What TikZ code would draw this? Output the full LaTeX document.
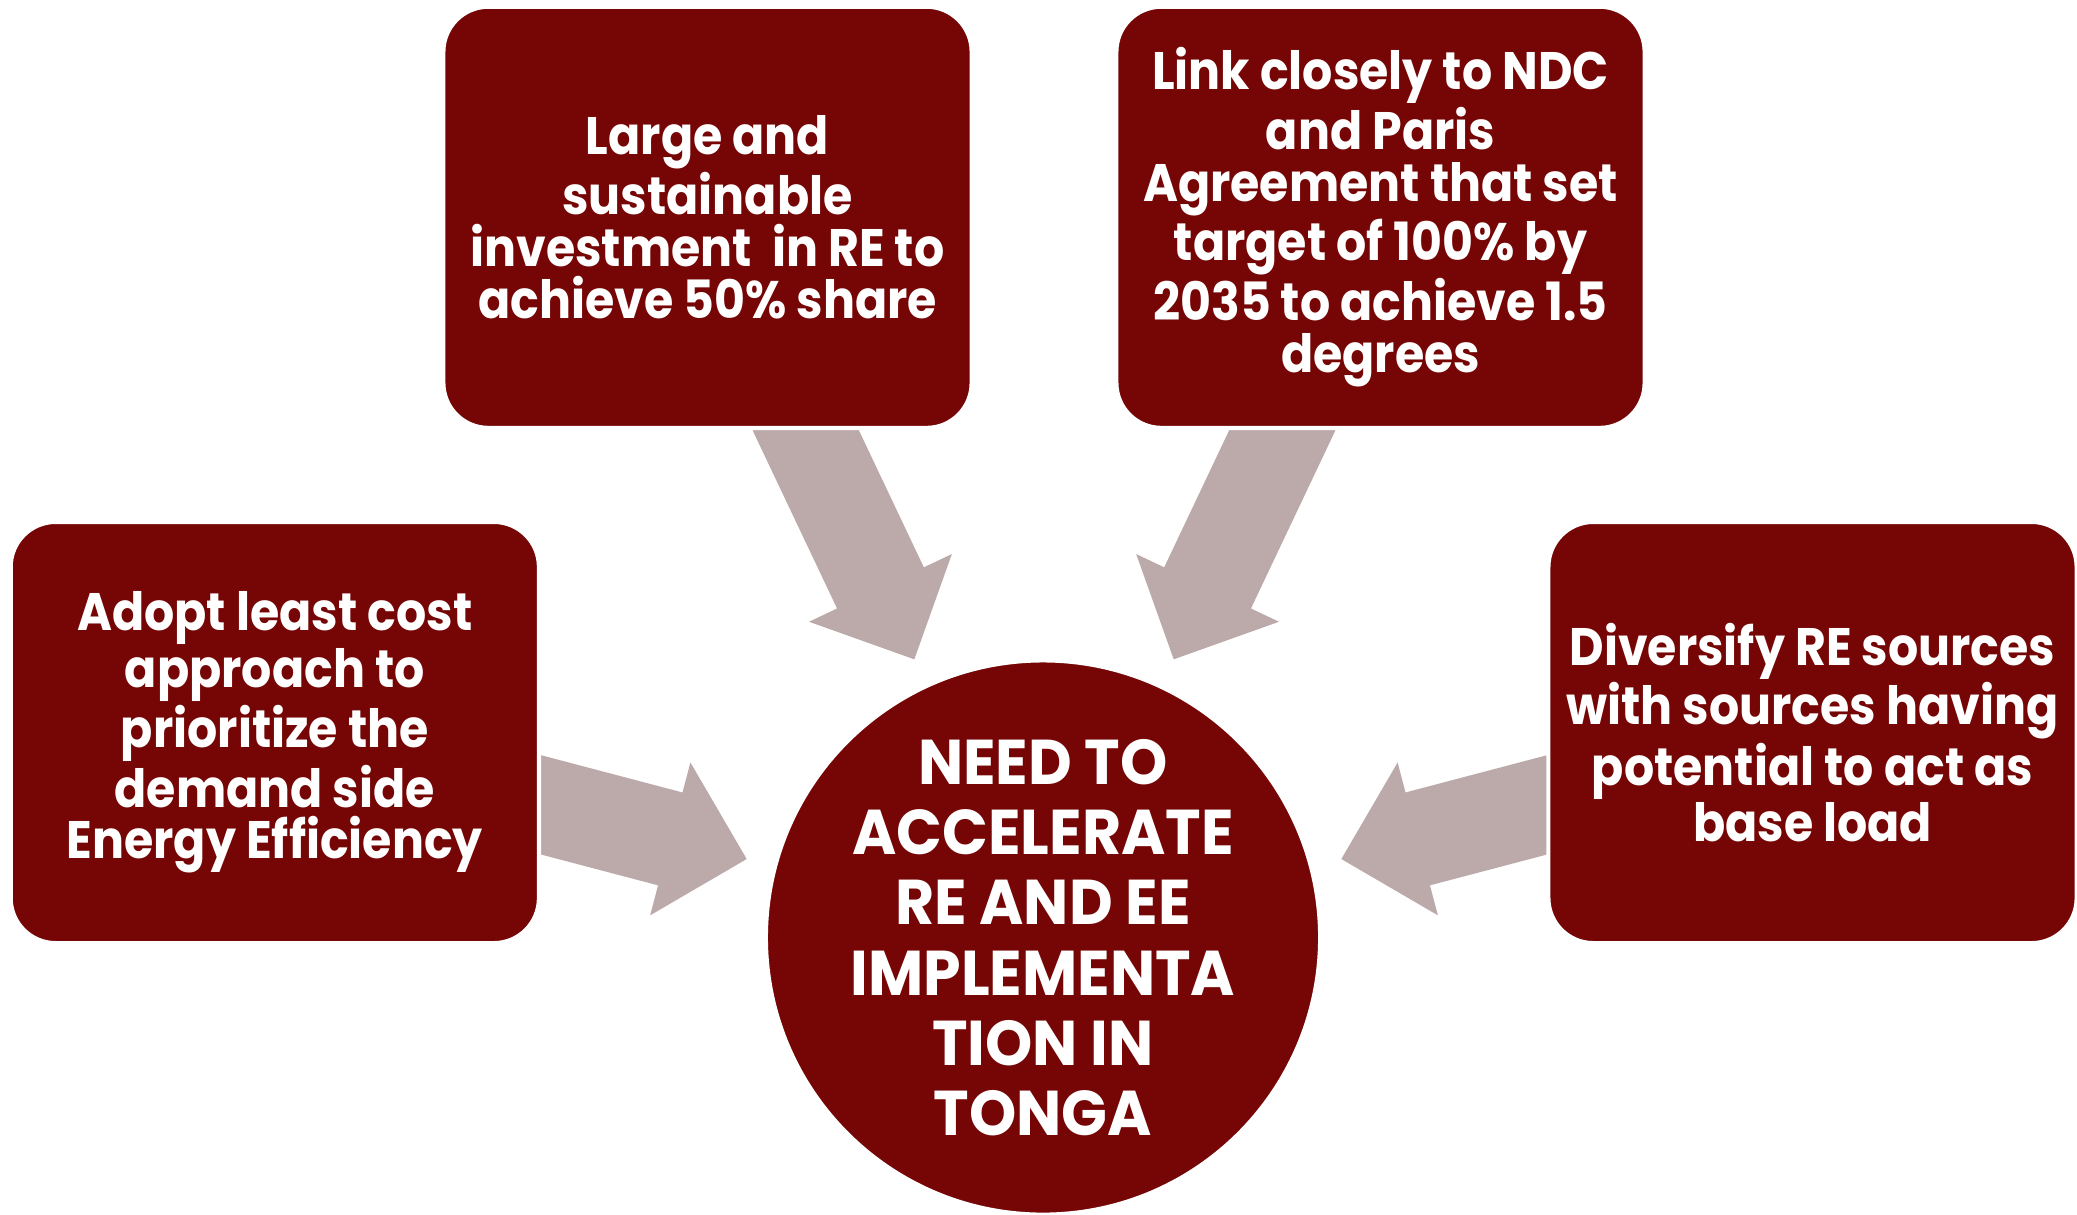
\documentclass[tikz,border=0pt]{standalone}
\usepackage{fontspec}
\setmainfont{Poppins}
\newfontfamily\boxfont{Poppins}[BoldFeatures={FakeStretch=0.9}]
\newfontfamily\hubfont{Poppins}[BoldFeatures={FakeStretch=0.95}]
\usetikzlibrary{calc}

\definecolor{boxred}{RGB}{118,6,6}
\definecolor{arrowgray}{RGB}{188,170,170}

% block arrow from tail coordinate to tip coordinate
\newcommand{\blockarrow}[2]{%
  \coordinate (#1base) at ($(#2)!0.79cm!(#1)$);
  \fill[arrowgray] ($(#1)!0.48cm!90:(#2)$) -- ($(#1base)!0.48cm!90:(#2)$)
    -- ($(#1base)!0.79cm!90:(#2)$) -- (#2)
    -- ($(#1base)!0.79cm!-90:(#2)$) -- ($(#1base)!0.48cm!-90:(#2)$)
    -- ($(#1)!0.48cm!-90:(#2)$) -- cycle;
}

\begin{document}
\begin{tikzpicture}[x=0.01cm, y=-0.01cm,
    box/.style={rectangle, rounded corners=0.45cm, fill=boxred, draw=white, line width=1.2pt,
      minimum width=5.28cm, minimum height=4.21cm, inner sep=0, text=white, align=center,
      font=\boxfont\bfseries\fontsize{15}{14.7}\selectfont},
    hub/.style={circle, fill=boxred, draw=white, line width=1.2pt, minimum size=5.54cm,
      inner sep=0, text=white, align=center, font=\hubfont\bfseries\fontsize{18}{20}\selectfont}]
    \useasboundingbox (0,0) rectangle (2077,1214);

    % arrows
    \coordinate (EEtail) at (520,799.3);
    \coordinate (EEtip) at (746.7,859);
    \coordinate (INVtail) at (796.1,410);
    \coordinate (INVtip) at (914.3,659.3);
    \coordinate (NDCtail) at (1291.9,410);
    \coordinate (NDCtip) at (1173.7,659.3);
    \coordinate (DIVtail) at (1568,799.3);
    \coordinate (DIVtip) at (1341.3,859);
    \blockarrow{EEtail}{EEtip}
    \blockarrow{INVtail}{INVtip}
    \blockarrow{NDCtail}{NDCtip}
    \blockarrow{DIVtail}{DIVtip}

    % boxes
    \node[box] (EE) at (274.8,732.5) {Adopt least cost\\approach to\\prioritize the\\demand side\\Energy Efficiency};
    \node[box] (INV) at (707.5,217.3) {Large and\\sustainable\\investment\ \ in RE to\\achieve 50\% share};
    \node[box] (NDC) at (1380.5,217.3) {Link closely to NDC\\and Paris\\Agreement that set\\target of 100\% by\\2035 to achieve 1.5\\degrees};
    \node[box] (DIV) at (1812.5,732.5) {Diversify RE sources\\with sources having\\potential to act as\\base load};
    \node[hub] (NEED) at (1043,937.5) {NEED TO\\ACCELERATE\\RE AND EE\\IMPLEMENTA\\TION IN\\TONGA};
\end{tikzpicture}
\end{document}
